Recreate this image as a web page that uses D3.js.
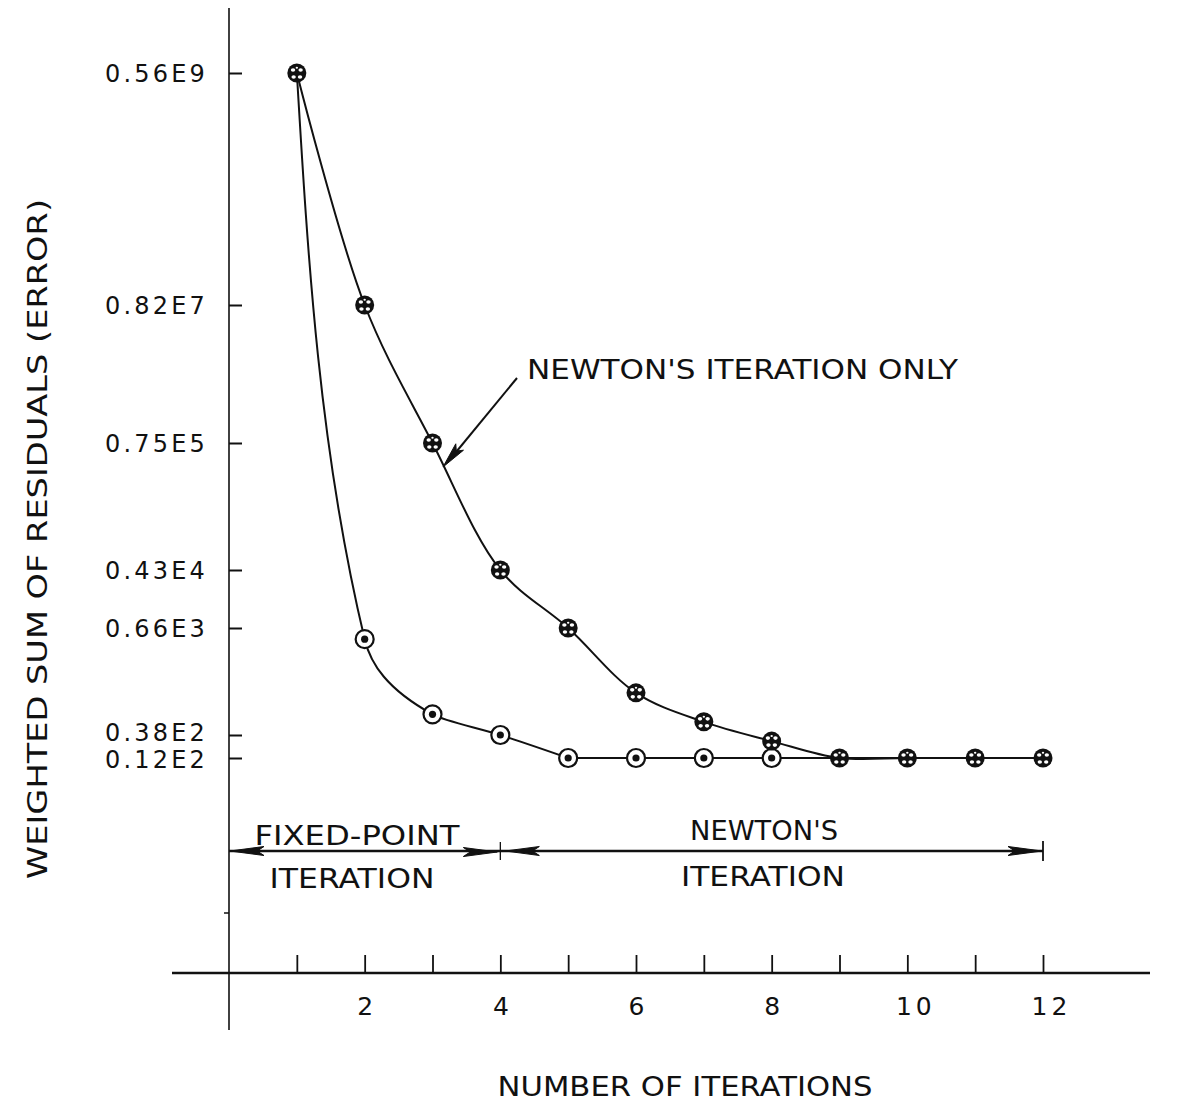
<!DOCTYPE html>
<html>
<head>
<meta charset="utf-8">
<script src="https://cdn.jsdelivr.net/npm/d3@7"></script>
<style>
  html, body { margin: 0; padding: 0; background: #fff; }
  svg { display: block; }
  text { font-family: "DejaVu Sans", sans-serif; fill: #111; }
</style>
</head>
<body>
<svg id="chart" width="1179" height="1101"></svg>
<script>
// ---- data ----
const iterations = [1, 2, 3, 4, 5, 6, 7, 8, 9, 10, 11, 12];
const newtonOnly = [5.6e8, 8.2e6, 7.5e4, 4.3e3, 660, 117, 54, 28, 12, 12, 12, 12];
const fixedThenNewton = [5.6e8, 490, 66, 38, 12, 12, 12, 12, 12, 12, 12, 12];
const yTickValues = [5.6e8, 8.2e6, 7.5e4, 4.3e3, 660, 38, 12];
const yTickLabels = ["0.56E9", "0.82E7", "0.75E5", "0.43E4", "0.66E3", "0.38E2", "0.12E2"];
const xTickValues = [1, 2, 3, 4, 5, 6, 7, 8, 9, 10, 11, 12];
const xTickLabels = ["", "2", "", "4", "", "6", "", "8", "", "10", "", "12"];
const phaseLabels = [["FIXED-POINT", "ITERATION"], ["NEWTON'S", "ITERATION"]];
const annotationText = "NEWTON'S ITERATION ONLY";
const xTitle = "NUMBER OF ITERATIONS";
const yTitle = "WEIGHTED SUM OF RESIDUALS (ERROR)";

// ---- layout ----
const svg = d3.select("#chart");
const x = d3.scaleLinear().domain([0, 12]).range([229, 1043]);
// non-uniform (hand-spaced) log axis: piecewise-linear in log10(value)
const yStops = [73, 305, 443, 570, 628, 735, 758];
const y = d3.scaleLinear().domain(yTickValues.map(Math.log10)).range(yStops);
const yv = v => y(Math.log10(v));
const axisY = 973;
const ink = "#111";

// y axis line
svg.append("line").attr("x1", x(0)).attr("x2", x(0)).attr("y1", 8).attr("y2", 1030)
  .attr("stroke", ink).attr("stroke-width", 1.6);

// y axis ticks and labels
const labelShift = { "0.38E2": -3, "0.12E2": 1 };
const yAxis = d3.axisLeft(y)
  .tickValues(yTickValues.map(Math.log10))
  .tickSizeInner(-13).tickSizeOuter(0).tickPadding(21)
  .tickFormat((d, i) => yTickLabels[i]);
const gy = svg.append("g").attr("transform", `translate(${x(0)},0)`).call(yAxis);
gy.select(".domain").remove();
gy.selectAll("line").attr("stroke", ink).attr("stroke-width", 2);
gy.selectAll("text").attr("font-family", "DejaVu Sans").attr("font-size", 24)
  .attr("letter-spacing", 3.2).attr("fill", ink)
  .attr("dy", function () { return (labelShift[this.textContent] || 0) + 8.5; });

// small minor tick below
svg.append("line").attr("x1", x(0) - 5).attr("x2", x(0)).attr("y1", 913).attr("y2", 913)
  .attr("stroke", ink).attr("stroke-width", 1.5);

// x axis
svg.append("line").attr("x1", 172).attr("x2", 1150).attr("y1", axisY).attr("y2", axisY)
  .attr("stroke", ink).attr("stroke-width", 2.6);
const xAxis = d3.axisBottom(x).tickValues(xTickValues)
  .tickSizeInner(-18).tickSizeOuter(0).tickPadding(32)
  .tickFormat((d, i) => xTickLabels[i]);
const gx = svg.append("g").attr("transform", `translate(0,${axisY})`).call(xAxis);
gx.select(".domain").remove();
gx.selectAll("line").attr("stroke", ink).attr("stroke-width", 1.8);
gx.selectAll("text").attr("font-family", "DejaVu Sans").attr("font-size", 25)
  .attr("letter-spacing", 4).attr("fill", ink).attr("dy", "0.4em")
  .attr("dx", (d) => d >= 10 ? 8 : 2);

// ---- curves ----
const straight = d3.line().x(d => x(d.it)).y(d => yv(d.v));
// fixed-point: smooth descent (x as monotone function of y) until the plateau, then straight
function drawFixed(vals) {
  const pts = iterations.map((it, i) => ({ it, v: vals[i] }));
  const plateau = vals[vals.length - 1];
  const k = vals.indexOf(plateau);
  const smooth = d3.line().x(d => x(d.it)).y(d => yv(d.v)).curve(d3.curveMonotoneY);
  svg.append("path").attr("d", smooth(pts.slice(0, k + 1))).attr("fill", "none")
    .attr("stroke", ink).attr("stroke-width", 2);
  svg.append("path").attr("d", straight(pts.slice(k))).attr("fill", "none")
    .attr("stroke", ink).attr("stroke-width", 2);
  return pts;
}
function drawNewton(vals) {
  const pts = iterations.map((it, i) => ({ it, v: vals[i] }));
  const smooth = d3.line().x(d => x(d.it)).y(d => yv(d.v)).curve(d3.curveCatmullRom.alpha(0.5));
  svg.append("path").attr("d", smooth(pts)).attr("fill", "none")
    .attr("stroke", ink).attr("stroke-width", 2);
  return pts;
}
const fixedData = drawFixed(fixedThenNewton);
const newtonData = drawNewton(newtonOnly);

// fixed-point markers: circle with centre dot
const fm = svg.append("g").selectAll("g").data(fixedData.filter(d => d.it > 1 && d.it < 9)).join("g")
  .attr("transform", d => `translate(${x(d.it)},${yv(d.v)})`);
fm.append("circle").attr("r", 9).attr("fill", "#fff").attr("stroke", ink).attr("stroke-width", 2.2);
fm.append("circle").attr("r", 3.6).attr("fill", ink);

// Newton markers: circle with asterisk (mostly dark with small light gaps)
const nm = svg.append("g").selectAll("g").data(newtonData).join("g")
  .attr("transform", d => `translate(${x(d.it)},${yv(d.v)})`);
nm.append("circle").attr("r", 9.5).attr("fill", ink);
[[-3.8, -3.0], [3.8, -3.0], [-3.2, 4.0], [3.2, 4.0], [0, -5.2]].forEach(([dx, dy], j) => {
  nm.append("ellipse").attr("cx", dx).attr("cy", dy)
    .attr("rx", j === 4 ? 1.2 : 2.2).attr("ry", j === 4 ? 1.0 : 1.8).attr("fill", "#fff");
});

// ---- arrowhead helper ----
function arrowHead(tipX, tipY, angle, len = 34, half = 4.5) {
  const ca = Math.cos(angle), sa = Math.sin(angle);
  const bx = tipX - ca * len, by = tipY - sa * len;
  const px = -sa * half, py = ca * half;
  const mx = tipX - ca * len * 0.8, my = tipY - sa * len * 0.8;
  svg.append("path")
    .attr("d", `M${tipX},${tipY} L${bx + px},${by + py} L${mx},${my} L${bx - px},${by - py} Z`)
    .attr("fill", ink).attr("stroke", ink).attr("stroke-width", 1);
}

// ---- phase bands ----
const bandY = 851;
svg.append("line").attr("x1", x(0)).attr("x2", x(12)).attr("y1", bandY).attr("y2", bandY)
  .attr("stroke", ink).attr("stroke-width", 2.4);
svg.append("line").attr("x1", x(4)).attr("x2", x(4)).attr("y1", bandY - 9).attr("y2", bandY + 9)
  .attr("stroke", ink).attr("stroke-width", 1.3);
svg.append("line").attr("x1", x(12)).attr("x2", x(12)).attr("y1", bandY - 10).attr("y2", bandY + 10)
  .attr("stroke", ink).attr("stroke-width", 1.8);
arrowHead(x(0) + 1, bandY, Math.PI);
arrowHead(x(4) - 3, bandY + 1, 0);
arrowHead(x(4) + 5, bandY, Math.PI);
arrowHead(x(12) - 1, bandY, 0);

const phaseText = [
  { line1: { cx: 357, y: 845, len: 205 }, line2: { cx: 352, y: 888, len: 165 } },
  { line1: { cx: 764, y: 840, len: 148 }, line2: { cx: 763, y: 886, len: 164 } }
];
phaseLabels.forEach((pl, i) => {
  const pt = phaseText[i];
  svg.append("text").attr("x", pt.line1.cx).attr("y", pt.line1.y).attr("text-anchor", "middle")
    .attr("font-size", 26).attr("textLength", pt.line1.len).attr("lengthAdjust", "spacingAndGlyphs").text(pl[0]);
  svg.append("text").attr("x", pt.line2.cx).attr("y", pt.line2.y).attr("text-anchor", "middle")
    .attr("font-size", 26).attr("textLength", pt.line2.len).attr("lengthAdjust", "spacingAndGlyphs").text(pl[1]);
});

// ---- annotation ----
svg.append("text").attr("x", 527).attr("y", 379).attr("font-size", 26)
  .attr("textLength", 431).attr("lengthAdjust", "spacingAndGlyphs").text(annotationText);
svg.append("line").attr("x1", 517).attr("y1", 378).attr("x2", 452).attr("y2", 457)
  .attr("stroke", ink).attr("stroke-width", 2);
arrowHead(443, 467, Math.atan2(467 - 378, 443 - 517), 26, 5);

// ---- titles ----
svg.append("text").attr("x", 685).attr("y", 1096).attr("text-anchor", "middle")
  .attr("font-size", 26).attr("textLength", 375).attr("lengthAdjust", "spacingAndGlyphs").text(xTitle);
svg.append("text").attr("transform", "translate(47,539) rotate(-90)").attr("text-anchor", "middle")
  .attr("font-size", 26).attr("textLength", 680).attr("lengthAdjust", "spacingAndGlyphs").text(yTitle);
</script>
</body>
</html>
